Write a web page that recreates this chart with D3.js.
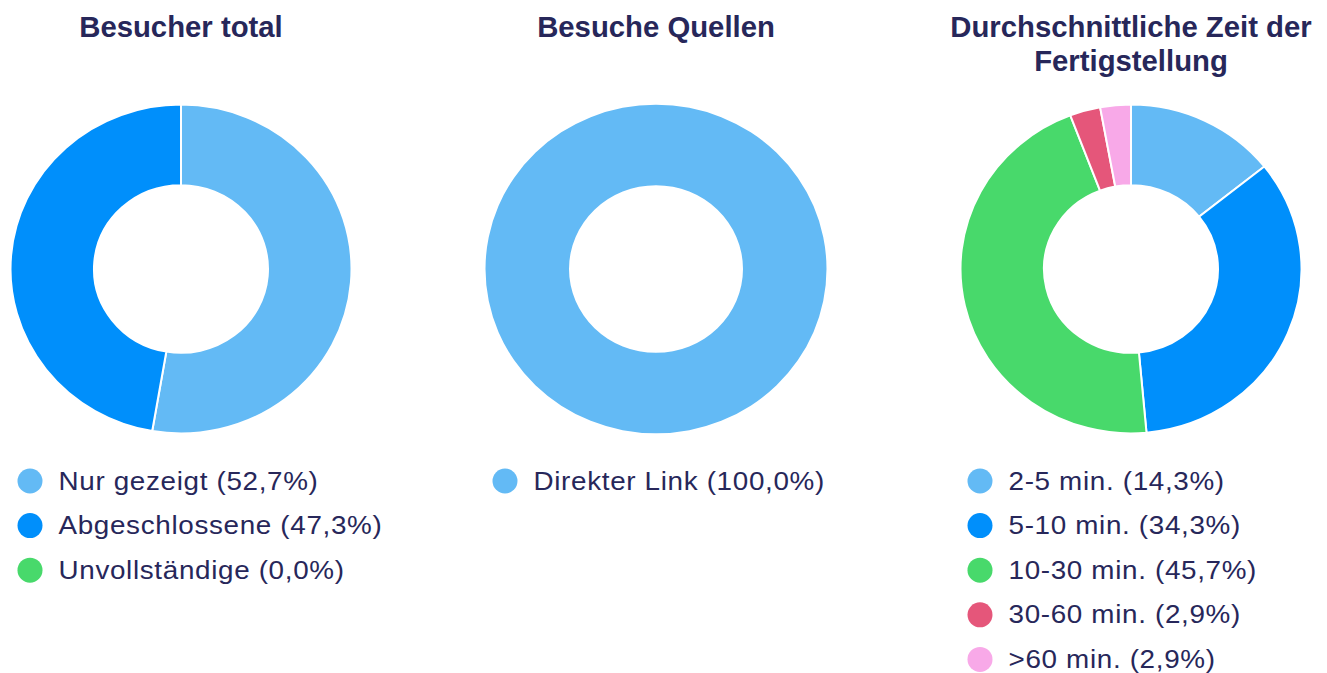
<!DOCTYPE html>
<html>
<head>
<meta charset="utf-8">
<script src="https://cdn.jsdelivr.net/npm/d3@7"></script>
<style>
  body { margin: 0; background: #fff; }
  svg { display: block; font-family: "Liberation Sans", Arial, sans-serif; }
</style>
</head>
<body>
<div id="chart"></div>
<script>
const width = 1327;
const height = 673;

// chart data
const titles = [
    ['Besucher total'],
    ['Besuche Quellen'],
    ['Durchschnittliche Zeit der', 'Fertigstellung']
];
const labels1 = ['Nur gezeigt', 'Abgeschlossene', 'Unvollständige'];
const values1 = [52.7, 47.3, 0.0];
const labels2 = ['Direkter Link'];
const values2 = [100.0];
const labels3 = ['2-5 min.', '5-10 min.', '10-30 min.', '30-60 min.', '>60 min.'];
const values3 = [14.3, 34.3, 45.7, 2.9, 2.9];

const colors1 = ['#63baf5', '#008ffb', '#48d96b'];
const colors2 = ['#63baf5'];
const colors3 = ['#63baf5', '#008ffb', '#48d96b', '#e5567a', '#f8a9e8'];

const charts = [
    { title: titles[0], labels: labels1, values: values1, colors: colors1 },
    { title: titles[1], labels: labels2, values: values2, colors: colors2 },
    { title: titles[2], labels: labels3, values: values3, colors: colors3 }
];

const centers = [181, 656, 1131];
const cy = 269;
const outerR = 170.5;
const innerR = 87;
const squash = 0.964;
const textColor = '#27275a';

const svg = d3.select('#chart').append('svg')
    .attr('width', width)
    .attr('height', height);

const pie = d3.pie().sort(null).value(d => d);
const arc = d3.arc().innerRadius(innerR).outerRadius(outerR);

charts.forEach((c, i) => {
    const cx = centers[i];

    // title
    const title = svg.append('text')
        .attr('x', cx)
        .attr('y', 37)
        .attr('text-anchor', 'middle')
        .attr('fill', textColor)
        .attr('font-size', 29.3)
        .attr('font-weight', 'bold');
    c.title.forEach((line, j) => {
        title.append('tspan')
            .attr('x', cx)
            .attr('dy', j === 0 ? 0 : 33.5)
            .text(line);
    });

    // donut
    const g = svg.append('g')
        .attr('transform', `translate(${cx},${cy}) scale(1,${squash})`);
    g.selectAll('path')
        .data(pie(c.values).filter(d => d.value > 0))
        .join('path')
        .attr('d', arc)
        .attr('fill', d => c.colors[d.index])
        .attr('stroke', c.values.length > 1 ? '#fff' : 'none')
        .attr('stroke-width', 2);

    // legend
    const legend = svg.append('g')
        .attr('transform', `translate(${cx - 151},481)`);
    const item = legend.selectAll('g')
        .data(c.labels)
        .join('g')
        .attr('transform', (d, j) => `translate(0,${j * 44.6})`);
    item.append('circle')
        .attr('r', 12.5)
        .attr('fill', (d, j) => c.colors[j]);
    // legend text is a bit wider than the font's natural shape
    item.append('text')
        .attr('transform', 'translate(28.5,8.5) scale(1.113,1)')
        .attr('fill', textColor)
        .attr('font-size', 25)
        .attr('letter-spacing', 0.6)
        .text((d, j) => `${d} (${c.values[j].toFixed(1).replace('.', ',')}%)`);
});
</script>
</body>
</html>
